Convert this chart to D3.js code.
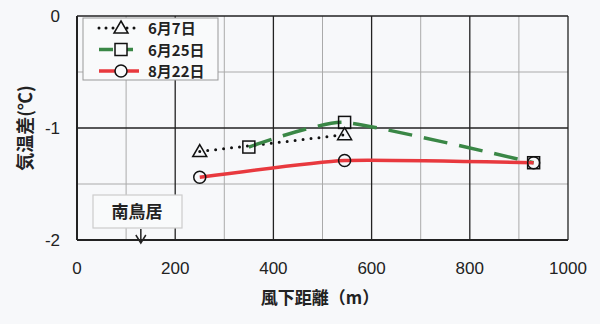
<!DOCTYPE html>
<meta charset="utf-8">
<style>
body { margin: 0; background: #f7f8fa; }
text { font-family: "Noto Sans CJK JP", sans-serif; fill: #222; }
.num { font-family: "Liberation Sans", "Noto Sans", sans-serif; font-size: 17px; }
</style>
<body>
<script src="https://cdn.jsdelivr.net/npm/d3@7/dist/d3.min.js"></script>
<script>
// data
var series = ["6月7日", "6月25日", "8月22日"];
var xJun7 = [250, 545], yJun7 = [-1.21, -1.06];
var xJun25 = [350, 545, 930], yJun25 = [-1.17, -0.95, -1.31];
var xAug22 = [250, 545, 930], yAug22 = [-1.44, -1.29, -1.31];
var xTicks = [0, 200, 400, 600, 800, 1000];
var yTicks = [0, -1, -2];
var markerX = 130;   // 南鳥居

var W = 600, H = 324;
var x = d3.scaleLinear().domain([0, 1000]).range([77, 568]);
var y = d3.scaleLinear().domain([-2, 0]).range([240, 16]);

var svg = d3.select("body").append("svg").attr("width", W).attr("height", H);

// grid
svg.append("g").selectAll("line").data(d3.range(100, 1000, 200)).enter().append("line")
    .attr("x1", d => x(d)).attr("x2", d => x(d)).attr("y1", y(0)).attr("y2", y(-2))
    .attr("stroke", "#aaa").attr("stroke-width", 1);
svg.append("g").selectAll("line").data([-0.5, -1.5]).enter().append("line")
    .attr("x1", x(0)).attr("x2", x(1000)).attr("y1", d => y(d)).attr("y2", d => y(d))
    .attr("stroke", "#aaa").attr("stroke-width", 1);
svg.append("g").selectAll("line").data(xTicks).enter().append("line")
    .attr("x1", d => x(d)).attr("x2", d => x(d)).attr("y1", y(0)).attr("y2", y(-2))
    .attr("stroke", "#222").attr("stroke-width", 1.3);
svg.append("g").selectAll("line").data(yTicks).enter().append("line")
    .attr("x1", x(0)).attr("x2", x(1000)).attr("y1", d => y(d)).attr("y2", d => y(d))
    .attr("stroke", "#222").attr("stroke-width", 1.3);
svg.append("line").attr("x1", x(0)).attr("x2", x(1000)).attr("y1", y(-2)).attr("y2", y(-2))
    .attr("stroke", "#222").attr("stroke-width", 2);
svg.append("line").attr("x1", x(0)).attr("x2", x(0)).attr("y1", y(0)).attr("y2", y(-2))
    .attr("stroke", "#222").attr("stroke-width", 2);

// axis labels
svg.append("g").selectAll("text").data(xTicks).enter().append("text")
    .attr("class", "num").attr("x", d => x(d)).attr("y", 274)
    .attr("text-anchor", "middle").text(d => d);
svg.append("g").selectAll("text").data(yTicks).enter().append("text")
    .attr("class", "num").attr("x", 60).attr("y", d => y(d) + 6)
    .attr("text-anchor", "end").text(d => d === 0 ? "0" : "-" + Math.abs(d));

svg.append("text").attr("x", 320).attr("y", 304).attr("text-anchor", "middle")
    .style("font-size", "17px").style("font-weight", "bold").text("風下距離（m）");
svg.append("text").attr("transform", "translate(32,128) rotate(-90)")
    .attr("text-anchor", "middle").style("font-size", "18px").style("font-weight", "bold")
    .text("気温差(℃)");

// lines
var line = d3.line().x(d => x(d[0])).y(d => y(d[1])).curve(d3.curveCardinal.tension(0.5));
var styles = [
  {xs: xJun7, ys: yJun7, color: "#111", width: 3, dash: "0,8", cap: "round", mark: "triangle"},
  {xs: xJun25, ys: yJun25, color: "#3a8746", width: 3.5, dash: "24,12", cap: "butt", mark: "square"},
  {xs: xAug22, ys: yAug22, color: "#e8393e", width: 3.5, dash: null, cap: "butt", mark: "circle"}
];

function drawMark(g, type, cx, cy) {
  if (type === "triangle") {
    g.append("path").attr("d", "M" + cx + "," + (cy - 7) + "L" + (cx + 7) + "," + (cy + 5) + "L" + (cx - 7) + "," + (cy + 5) + "Z");
  } else if (type === "square") {
    g.append("rect").attr("x", cx - 6).attr("y", cy - 6).attr("width", 12).attr("height", 12);
  } else {
    g.append("circle").attr("cx", cx).attr("cy", cy).attr("r", 6);
  }
}

styles.forEach(function(s) {
  var pts = s.xs.map((v, i) => [v, s.ys[i]]);
  svg.append("path").datum(pts).attr("d", line)
      .attr("fill", "none").attr("stroke", s.color).attr("stroke-width", s.width)
      .attr("stroke-dasharray", s.dash).attr("stroke-linecap", s.cap);
  var g = svg.append("g").attr("fill", "none").attr("stroke", "#111").attr("stroke-width", 1.5);
  pts.forEach(p => drawMark(g, s.mark, x(p[0]), y(p[1])));
});

// legend
var lg = svg.append("g");
lg.append("rect").attr("x", 83).attr("y", 18).attr("width", 135).attr("height", 62)
    .attr("fill", "#f9fafb").attr("stroke", "#999").attr("stroke-width", 1);
styles.forEach(function(s, i) {
  var ly = 28 + i * 21.5;
  lg.append("line").attr("x1", 99).attr("x2", 139).attr("y1", ly).attr("y2", ly)
      .attr("stroke", s.color).attr("stroke-width", s.width)
      .attr("stroke-dasharray", s.dash ? (s.dash === "0,8" ? "0,7" : "14,6") : null)
      .attr("stroke-linecap", s.cap);
  var g = lg.append("g").attr("fill", "#f9fafb").attr("stroke", "#111").attr("stroke-width", 1.5);
  drawMark(g, s.mark, 121, ly);
  lg.append("text").attr("x", 148).attr("y", ly + 6).style("font-size", "15px")
      .style("font-weight", "bold").text(series[i]);
});

// 南鳥居 annotation
svg.append("rect").attr("x", 93).attr("y", 195).attr("width", 89).attr("height", 33)
    .attr("fill", "#f9fafb").attr("stroke", "#ccc").attr("stroke-width", 1.2);
svg.append("text").attr("x", 137).attr("y", 218).attr("text-anchor", "middle")
    .style("font-size", "17px").style("font-weight", "bold").text("南鳥居");
var ax = x(markerX);
svg.append("path").attr("d", "M" + ax + ",229L" + ax + ",243M" + (ax - 5) + ",235L" + ax + ",243L" + (ax + 5) + ",235")
    .attr("fill", "none").attr("stroke", "#222").attr("stroke-width", 1.5);
</script>
</body>
